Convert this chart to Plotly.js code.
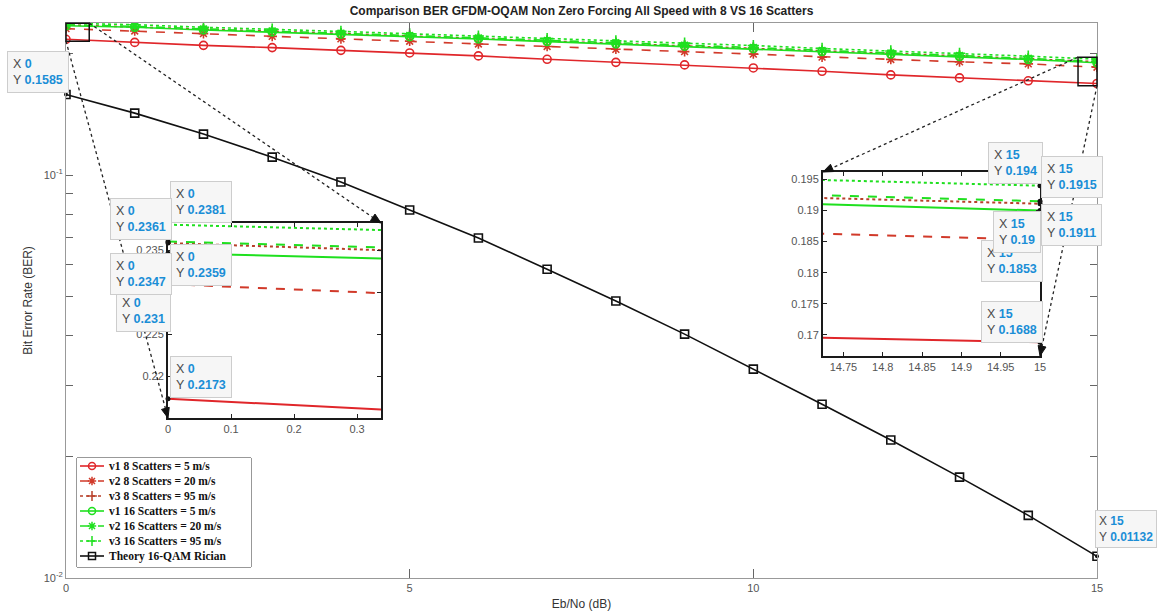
<!DOCTYPE html>
<html><head><meta charset="utf-8">
<script src="https://cdn.plot.ly/plotly-3.0.1.min.js"></script>
<style>html,body{margin:0;padding:0;background:#fff}#chart{width:1158px;height:616px}</style>
</head><body><div id="chart"></div>
<script>
// ---------------- data ----------------
const ebno   = [0,1,2,3,4,5,6,7,8,9,10,11,12,13,14,15];
const v1_8   = [0.2173,0.2135,0.2099,0.2072,0.2040,0.2010,0.1976,0.1938,0.1905,0.1877,0.1845,0.1810,0.1773,0.1743,0.1714,0.1688];
const v2_8   = [0.2310,0.2278,0.2245,0.2210,0.2178,0.2150,0.2116,0.2086,0.2052,0.2025,0.1997,0.1963,0.1937,0.1910,0.1888,0.1853];
const v3_8   = [0.2359,0.2334,0.2301,0.2275,0.2246,0.2215,0.2186,0.2153,0.2125,0.2097,0.2068,0.2034,0.2005,0.1977,0.1944,0.1911];
const v1_16  = [0.2347,0.2328,0.2292,0.2266,0.2237,0.2206,0.2177,0.2145,0.2117,0.2089,0.2060,0.2026,0.1997,0.1969,0.1936,0.1900];
const v2_16  = [0.2361,0.2340,0.2306,0.2280,0.2251,0.2220,0.2191,0.2158,0.2130,0.2102,0.2073,0.2038,0.2009,0.1981,0.1950,0.1915];
const v3_16  = [0.2381,0.2362,0.2328,0.2303,0.2273,0.2243,0.2214,0.2181,0.2153,0.2126,0.2097,0.2062,0.2033,0.2006,0.1973,0.1940];
const theory = [0.1585,0.1425,0.1264,0.1108,0.0961,0.0819,0.0698,0.0584,0.0487,0.0403,0.0330,0.0270,0.0220,0.0178,0.0143,0.01132];

const seriesNames = ['v1 8 Scatters = 5 m/s','v2 8 Scatters = 20 m/s','v3 8 Scatters = 95 m/s',
                     'v1 16 Scatters = 5 m/s','v2 16 Scatters = 20 m/s','v3 16 Scatters = 95 m/s',
                     'Theory 16-QAM Rician'];
const xTicks = [0,5,10,15];
const yTickVals = [0.01,0.02,0.03,0.04,0.05,0.06,0.07,0.08,0.09,0.1,0.2];
const yTickText = ['10<sup>-2</sup>','','','','','','','','','10<sup>-1</sup>',''];
const inset1XTicks = [0,0.1,0.2,0.3];
const inset1YTicks = [0.22,0.225,0.23,0.235];
const inset2XTicks = [14.75,14.8,14.85,14.9,14.95,15];
const inset2YTicks = [0.17,0.175,0.18,0.185,0.19,0.195];
const titleText = 'Comparison BER GFDM-OQAM Non Zero Forcing All Speed with 8 VS 16 Scatters';

// ---------------- geometry ----------------
const L=66, R=1097, T=23, B=578;
const yLogMin=-2, yLogMax=-0.6225;
const inset1 = {x:[0,0.338], y:[0.215,0.2383], px:[168,381], py:[223,418]};
const inset2 = {x:[14.724,15], y:[0.1666,0.1962], px:[823,1040], py:[172,356]};
const legBox = {px:[77,251], py:[458,567]};
const pX = px => (px-L)/(R-L);
const pY = py => (B-py)/(B-T);
const mainPx = x => L + x/15*(R-L);
const mainPy = y => T + (yLogMax-Math.log10(y))/(yLogMax-yLogMin)*(B-T);

const RED='#e0262a', RED2='#d13a2a', RED3='#b8402a', GREEN='#1fe01f';
const styles = [
  {c:RED,   d:'solid', s:'circle-open'},
  {c:RED2,  d:'dash',  s:'asterisk-open'},
  {c:RED3,  d:'dot',   s:'cross-thin-open'},
  {c:GREEN, d:'solid', s:'circle-open'},
  {c:GREEN, d:'dash',  s:'asterisk-open'},
  {c:GREEN, d:'dot',   s:'cross-thin-open'},
  {c:'#111111', d:'solid', s:'square-open'}
];
const allSeries = [v1_8,v2_8,v3_8,v1_16,v2_16,v3_16,theory];

const traces = [];
allSeries.forEach((ys,i)=>{
  traces.push({x:ebno, y:ys, xaxis:'x', yaxis:'y', mode:'lines+markers', showlegend:false, name:seriesNames[i],
    line:{color:styles[i].c, dash:styles[i].d, width:1.6},
    marker:{symbol:styles[i].s, size:8, color:styles[i].c, line:{color:styles[i].c, width:1.6}}});
});
[['x2','y2'],['x3','y3']].forEach(ax=>{
  allSeries.slice(0,6).forEach((ys,i)=>{
    traces.push({x:ebno, y:ys, xaxis:ax[0], yaxis:ax[1], mode:'lines', showlegend:false, name:seriesNames[i],
      line:{color:styles[i].c, dash:styles[i].d, width:2}});
  });
});
const six = allSeries.slice(0,6);
traces.push({x:six.map(()=>ebno[0]), y:six.map(s=>s[0]), xaxis:'x2', yaxis:'y2', mode:'markers', showlegend:false, cliponaxis:false,
  marker:{size:5, color:'#111'}});
traces.push({x:six.map(()=>ebno[15]), y:six.map(s=>s[15]), xaxis:'x3', yaxis:'y3', mode:'markers', showlegend:false, cliponaxis:false,
  marker:{size:5, color:'#111'}});
traces.push({x:[ebno[0],ebno[15]], y:[theory[0],theory[15]], xaxis:'x', yaxis:'y', mode:'markers', showlegend:false, cliponaxis:false,
  marker:{size:4, color:'#111'}});

// legend samples (legend drawn in its own small subplot)
const legRows = seriesNames.map((n,i)=>466+15*i);
seriesNames.forEach((n,i)=>{
  traces.push({x:[80,92,104], y:[legRows[i],legRows[i],legRows[i]], xaxis:'x4', yaxis:'y4', mode:'lines+markers', showlegend:false,
    hoverinfo:'skip', cliponaxis:false,
    line:{color:styles[i].c, dash:styles[i].d, width:1.6},
    marker:{symbol:styles[i].s, size:7, color:styles[i].c, opacity:[0,1,0], line:{color:styles[i].c, width:1.5}}});
});

// ---------------- annotations ----------------
const annotations = [];
seriesNames.forEach((n,i)=>{
  annotations.push({xref:'x4', yref:'y4', x:107, y:legRows[i], text:n, showarrow:false, xanchor:'left', yanchor:'middle',
    font:{family:'Liberation Serif, serif', size:11.5, color:'#111', weight:'bold'}});
});
const blue = v => `<span style="color:#1b8ed6"><b>${v}</b></span>`;
function tip(px,py,xv,yv,fs,pad){
  annotations.push({xref:'paper', yref:'paper', x:pX(px), y:pY(py), xanchor:'left', yanchor:'top', align:'left',
    text:`X ${blue(xv)}<br>Y ${blue(yv)}`, showarrow:false, bgcolor:'#f6f6f6', bordercolor:'#cdcdcd', borderwidth:1,
    borderpad:pad||5, font:{family:'Liberation Sans, Arial, sans-serif', size:fs||12.5, color:'#4a4a4a'}});
}
tip(7,51, ebno[0], theory[0]);
tip(170,181, ebno[0], v3_16[0]);
tip(110,198, ebno[0], v2_16[0]);
tip(170,244, ebno[0], v3_8[0]);
tip(116,290, ebno[0], v2_8[0]);
tip(110,253, ebno[0], v1_16[0]);
tip(170,356, ebno[0], v1_8[0]);
tip(988,142, ebno[15], v3_16[15]);
tip(1041,156, ebno[15], v2_16[15]);
tip(981,240, ebno[15], v2_8[15]);
tip(993,211, ebno[15], v1_16[15]);
tip(1041,204, ebno[15], v3_8[15]);
tip(981,301, ebno[15], v1_8[15]);
tip(1095,510, ebno[15], theory[15], 12, 3);

// ---------------- shapes: zoom boxes, connectors ----------------
const shapes = [];
function zoomBox(ins){
  const x0=mainPx(ins.x[0]), x1=mainPx(ins.x[1]), y0=mainPy(ins.y[1]), y1=mainPy(ins.y[0]);
  shapes.push({type:'rect', xref:'paper', yref:'paper', x0:pX(x0), x1:pX(x1), y0:pY(y1), y1:pY(y0),
    line:{color:'#111', width:1.5}});
  return {l:x0, r:x1, t:y0, b:y1};
}
function connector(fx,fy,tx,ty){
  shapes.push({type:'line', xref:'paper', yref:'paper', x0:pX(fx), y0:pY(fy), x1:pX(tx), y1:pY(ty),
    line:{color:'#222', width:1.3, dash:'dot'}});
  const dx=tx-fx, dy=ty-fy, len=Math.hypot(dx,dy), ux=dx/len, uy=dy/len;
  const bx=tx-ux*10, by=ty-uy*10, nx=-uy*4, ny=ux*4;
  const pts=[[tx,ty],[bx+nx,by+ny],[bx-nx,by-ny]];
  shapes.push({type:'path', xref:'paper', yref:'paper',
    path:'M'+pts.map(p=>pX(p[0])+','+pY(p[1])).join(' L')+' Z', fillcolor:'#111', line:{color:'#111', width:1}});
}
const b1 = zoomBox(inset1), b2 = zoomBox(inset2);
connector(b1.r, b1.t, inset1.px[1], inset1.py[0]);
connector(b1.l, b1.b, inset1.px[0], inset1.py[1]);
connector(b2.l, b2.t, inset2.px[0], inset2.py[0]);
connector(b2.r, b2.b, inset2.px[1], inset2.py[1]);
shapes.push({type:'rect', xref:'paper', yref:'paper', x0:pX(legBox.px[0]), x1:pX(legBox.px[1]), y0:pY(legBox.py[1]), y1:pY(legBox.py[0]),
  line:{color:'#333', width:1}, fillcolor:'#ffffff', layer:'below'});

// ---------------- layout ----------------
const tickFont = {family:'Liberation Sans, Arial, sans-serif', size:11, color:'#555'};
const insetAxis = (range, ticks, dom, anchor) => ({domain:dom, range:range, anchor:anchor, tickvals:ticks,
  ticktext:ticks.map(v=>String(v)), ticks:'inside', ticklen:4, tickcolor:'#222', showline:true, linecolor:'#1a1a1a', linewidth:2,
  mirror:'ticks', showgrid:false, zeroline:false, tickfont:tickFont});

const layout = {
  width:1158, height:616, margin:{l:L, r:1158-R, t:T, b:616-B},
  paper_bgcolor:'#ffffff', plot_bgcolor:'#ffffff', showlegend:false, hovermode:false,
  font:{family:'Liberation Sans, Arial, sans-serif', color:'#444'},
  title:{text:'<b>'+titleText+'</b>', x:0.5, xref:'paper', xanchor:'center', y:1-11/616, yref:'container', yanchor:'middle',
    font:{family:'Liberation Sans, Arial, sans-serif', size:12, color:'#222'}},
  xaxis:{domain:[0,1], range:[0,15], tickvals:xTicks, ticks:'inside', ticklen:9, tickcolor:'#666', showline:true,
    linecolor:'#999', linewidth:1, mirror:'ticks', showgrid:false, zeroline:false, tickfont:tickFont,
    title:{text:'Eb/No (dB)', standoff:6, font:{size:12, color:'#333'}}},
  yaxis:{domain:[0,1], type:'log', range:[yLogMin,yLogMax], tickvals:yTickVals, ticktext:yTickText, ticks:'inside',
    ticklen:7, tickcolor:'#666', showline:true, linecolor:'#999', linewidth:1, mirror:'ticks', showgrid:false, zeroline:false,
    tickfont:tickFont,
    title:{text:'Bit Error Rate (BER)', standoff:8, font:{size:12, color:'#333'}}},
  xaxis2: insetAxis(inset1.x, inset1XTicks, [pX(inset1.px[0]), pX(inset1.px[1])], 'y2'),
  yaxis2: insetAxis(inset1.y, inset1YTicks, [pY(inset1.py[1]), pY(inset1.py[0])], 'x2'),
  xaxis3: insetAxis(inset2.x, inset2XTicks, [pX(inset2.px[0]), pX(inset2.px[1])], 'y3'),
  yaxis3: insetAxis(inset2.y, inset2YTicks, [pY(inset2.py[1]), pY(inset2.py[0])], 'x3'),
  xaxis4:{domain:[pX(legBox.px[0]), pX(legBox.px[1])], range:legBox.px, anchor:'y4', visible:false},
  yaxis4:{domain:[pY(legBox.py[1]), pY(legBox.py[0])], range:[legBox.py[1], legBox.py[0]], anchor:'x4', visible:false},
  annotations:annotations, shapes:shapes
};
Plotly.newPlot('chart', traces, layout, {displayModeBar:false, staticPlot:true});
</script></body></html>
